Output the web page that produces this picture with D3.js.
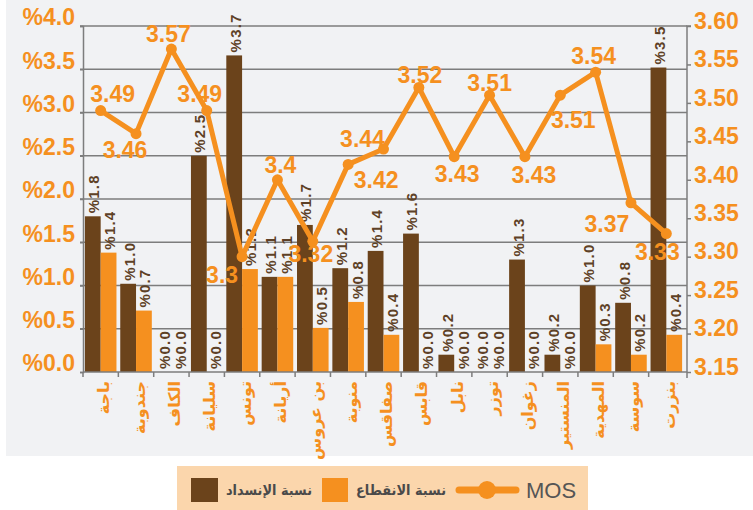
<!DOCTYPE html>
<html><head><meta charset="utf-8">
<script src="https://cdn.jsdelivr.net/npm/d3@7"></script>
<style>body{margin:0;background:#fff}svg{display:block}</style>
</head><body>
<svg id="c" width="753" height="510"></svg>
<script>
const categories = ["باجة","جندوبة","الكاف","سليانة","تونس","أريانة","بن عروس","منوبة","صفاقس","قابس","نابل","توزر","زغوان","المنستير","المهدية","سوسة","بنزرت"];
const blockage = [1.8,1.02,0.0,2.5,3.66,1.1,1.7,1.2,1.4,1.6,0.2,0.0,1.3,0.2,1.0,0.8,3.52];
const dropRate = [1.38,0.71,0.0,0.0,1.19,1.1,0.51,0.81,0.43,0.0,0.0,0.0,0.0,0.0,0.32,0.2,0.43];
const mos = [3.49,3.46,3.57,3.49,3.30,3.40,3.32,3.42,3.44,3.52,3.43,3.51,3.43,3.51,3.54,3.37,3.33];
const mosLabels = ["3.49","3.46","3.57","3.49","3.3","3.4","3.32","3.42","3.44","3.52","3.43","3.51","3.43","3.51","3.54","3.37","3.33"];
const leftTicks = [0,0.5,1.0,1.5,2.0,2.5,3.0,3.5,4.0];
const rightTicks = [3.15,3.20,3.25,3.30,3.35,3.40,3.45,3.50,3.55,3.60];
const legendLabels = ["نسبة الإنسداد","نسبة الانقطاع","MOS"];

// label placement offsets (layout only)
const mosLabelOffsets = [[12,-9],[-11,24],[-3,-7],[-7,-9],[-20,26],[3,-7],[-2,21],[28,24],[-21,-2],[1,-5],[3,25],[0,-4],[9,26],[13,33],[-2,-8],[-24,29],[-9,26]];

const BROWN = "#6B431B", ORANGE = "#F5901F", GRID = "#7d7d7d";
const NUMFONT = "'Liberation Sans', Arial, sans-serif";
const ARFONT = "'DejaVu Sans', sans-serif";

const svg = d3.select("#c");
svg.append("rect").attr("x",6).attr("y",0).attr("width",747).attr("height",456).attr("fill","#F1F2F4");

const pTop = 26, pBottom = 372, pLeft = 83, pRight = 687;
const x = d3.scaleBand().domain(categories).range([pLeft, 684]);
const yL = d3.scaleLinear().domain([0,4]).range([pBottom, pTop]);
const yR = d3.scaleLinear().domain([3.15,3.60]).range([pBottom, pTop]);

// gridlines
svg.append("g").selectAll("line").data(leftTicks.slice(1)).join("line")
  .attr("x1",pLeft-3).attr("x2",pRight).attr("y1",d=>yL(d)).attr("y2",d=>yL(d))
  .attr("stroke",GRID).attr("stroke-width",1.5);

// left axis
const gL = svg.append("g").attr("transform",`translate(${pLeft},0)`)
  .call(d3.axisLeft(yL).tickValues(leftTicks).tickSize(3).tickPadding(5).tickFormat(d=>"%"+d.toFixed(1)));
gL.select(".domain").attr("stroke",GRID).attr("stroke-width",1.5);
gL.selectAll(".tick line").attr("stroke",GRID).attr("stroke-width",1.5);
gL.selectAll(".tick text").attr("fill",ORANGE).attr("font-family",NUMFONT).attr("font-weight","bold")
  .attr("font-size",23).attr("dy","-0.05em").attr("direction","ltr");

// right axis
const gR = svg.append("g").attr("transform",`translate(${pRight},0)`)
  .call(d3.axisRight(yR).tickValues(rightTicks).tickSize(4).tickPadding(3).tickFormat(d3.format(".2f")));
gR.select(".domain").attr("stroke",GRID).attr("stroke-width",1.5).attr("d",`M4,${pTop}H0V${pBottom+6}`);
gR.selectAll(".tick line").attr("stroke",GRID).attr("stroke-width",1.5);
gR.selectAll(".tick text").attr("fill",ORANGE).attr("font-family",NUMFONT).attr("font-weight","bold")
  .attr("font-size",23).attr("dy","0.1em");

// bars
const inner = d3.scaleBand().domain([0,1]).range([0, x.bandwidth()]).paddingOuter(0.12).paddingInner(0);
const series = [blockage, dropRate];
const colors = [BROWN, ORANGE];
series.forEach((vals,si)=>{
  svg.append("g").selectAll("rect").data(vals).join("rect")
    .attr("x",(d,i)=>x(categories[i])+inner(si)).attr("width",inner.bandwidth())
    .attr("y",d=>yL(d)).attr("height",d=>pBottom-yL(d)).attr("fill",colors[si]);
});
series.forEach((vals,si)=>{
  svg.append("g").selectAll("text").data(vals).join("text")
    .attr("transform",(d,i)=>`translate(${x(categories[i])+inner(si)+inner.bandwidth()/2+1},${yL(d)-3}) rotate(-90)`)
    .attr("dominant-baseline","central").attr("text-anchor","start").attr("direction","ltr")
    .attr("font-family",NUMFONT).attr("font-weight","bold").attr("font-size",15).attr("letter-spacing",1.2)
    .attr("fill","#5e4126").text(d=>"%"+d.toFixed(1));
});

// bottom axis
svg.append("line").attr("x1",pLeft).attr("x2",pRight).attr("y1",pBottom).attr("y2",pBottom).attr("stroke",GRID).attr("stroke-width",1.5);
const bounds = categories.map(c=>x(c));
svg.append("g").selectAll("line").data(bounds).join("line")
  .attr("x1",d=>d).attr("x2",d=>d).attr("y1",pBottom).attr("y2",pBottom+5).attr("stroke",GRID).attr("stroke-width",1.5);
svg.append("g").selectAll("text").data(categories).join("text")
  .attr("transform",d=>`translate(${x(d)+x.bandwidth()/2+3},${pBottom+9}) rotate(-90)`)
  .attr("text-anchor","end").attr("dominant-baseline","central")
  .attr("font-family",ARFONT).attr("font-weight","bold").attr("font-size",16).attr("fill",ORANGE).text(d=>d);

// MOS line
const cx = (d,i)=>x(categories[i])+x.bandwidth()/2;
svg.append("path").datum(mos)
  .attr("d",d3.line().x(cx).y(d=>yR(d)))
  .attr("fill","none").attr("stroke",ORANGE).attr("stroke-width",5).attr("stroke-linejoin","round");
svg.append("g").selectAll("circle").data(mos).join("circle")
  .attr("cx",cx).attr("cy",d=>yR(d)).attr("r",5.5).attr("fill",ORANGE);
svg.append("g").selectAll("text").data(mos).join("text")
  .attr("x",(d,i)=>cx(d,i)+mosLabelOffsets[i][0]).attr("y",(d,i)=>yR(d)+mosLabelOffsets[i][1])
  .attr("text-anchor","middle").attr("font-family",NUMFONT).attr("font-weight","bold").attr("font-size",23)
  .attr("fill",ORANGE).text((d,i)=>mosLabels[i]);

// legend
const lg = svg.append("g");
lg.append("rect").attr("x",177).attr("y",466).attr("width",411).attr("height",44).attr("fill","#FBD6AC");
lg.append("rect").attr("x",191).attr("y",478).attr("width",27).attr("height",24).attr("fill",BROWN);
lg.append("text").attr("x",226).attr("y",490).attr("dominant-baseline","central")
  .attr("textLength",86).attr("lengthAdjust","spacingAndGlyphs")
  .attr("font-family",ARFONT).attr("font-weight","bold").attr("font-size",14).attr("fill","#4a4a4a").text(legendLabels[0]);
lg.append("rect").attr("x",322).attr("y",478).attr("width",26).attr("height",24).attr("fill",ORANGE);
lg.append("text").attr("x",356).attr("y",490).attr("dominant-baseline","central")
  .attr("textLength",90).attr("lengthAdjust","spacingAndGlyphs")
  .attr("font-family",ARFONT).attr("font-weight","bold").attr("font-size",14).attr("fill","#4a4a4a").text(legendLabels[1]);
lg.append("line").attr("x1",459).attr("x2",516).attr("y1",490).attr("y2",490).attr("stroke",ORANGE).attr("stroke-width",7).attr("stroke-linecap","round");
lg.append("circle").attr("cx",487).attr("cy",490).attr("r",9).attr("fill",ORANGE);
lg.append("text").attr("x",526).attr("y",490).attr("dominant-baseline","central")
  .attr("font-family",NUMFONT).attr("font-size",22).attr("fill","#555").text(legendLabels[2]);
</script>
</body></html>
